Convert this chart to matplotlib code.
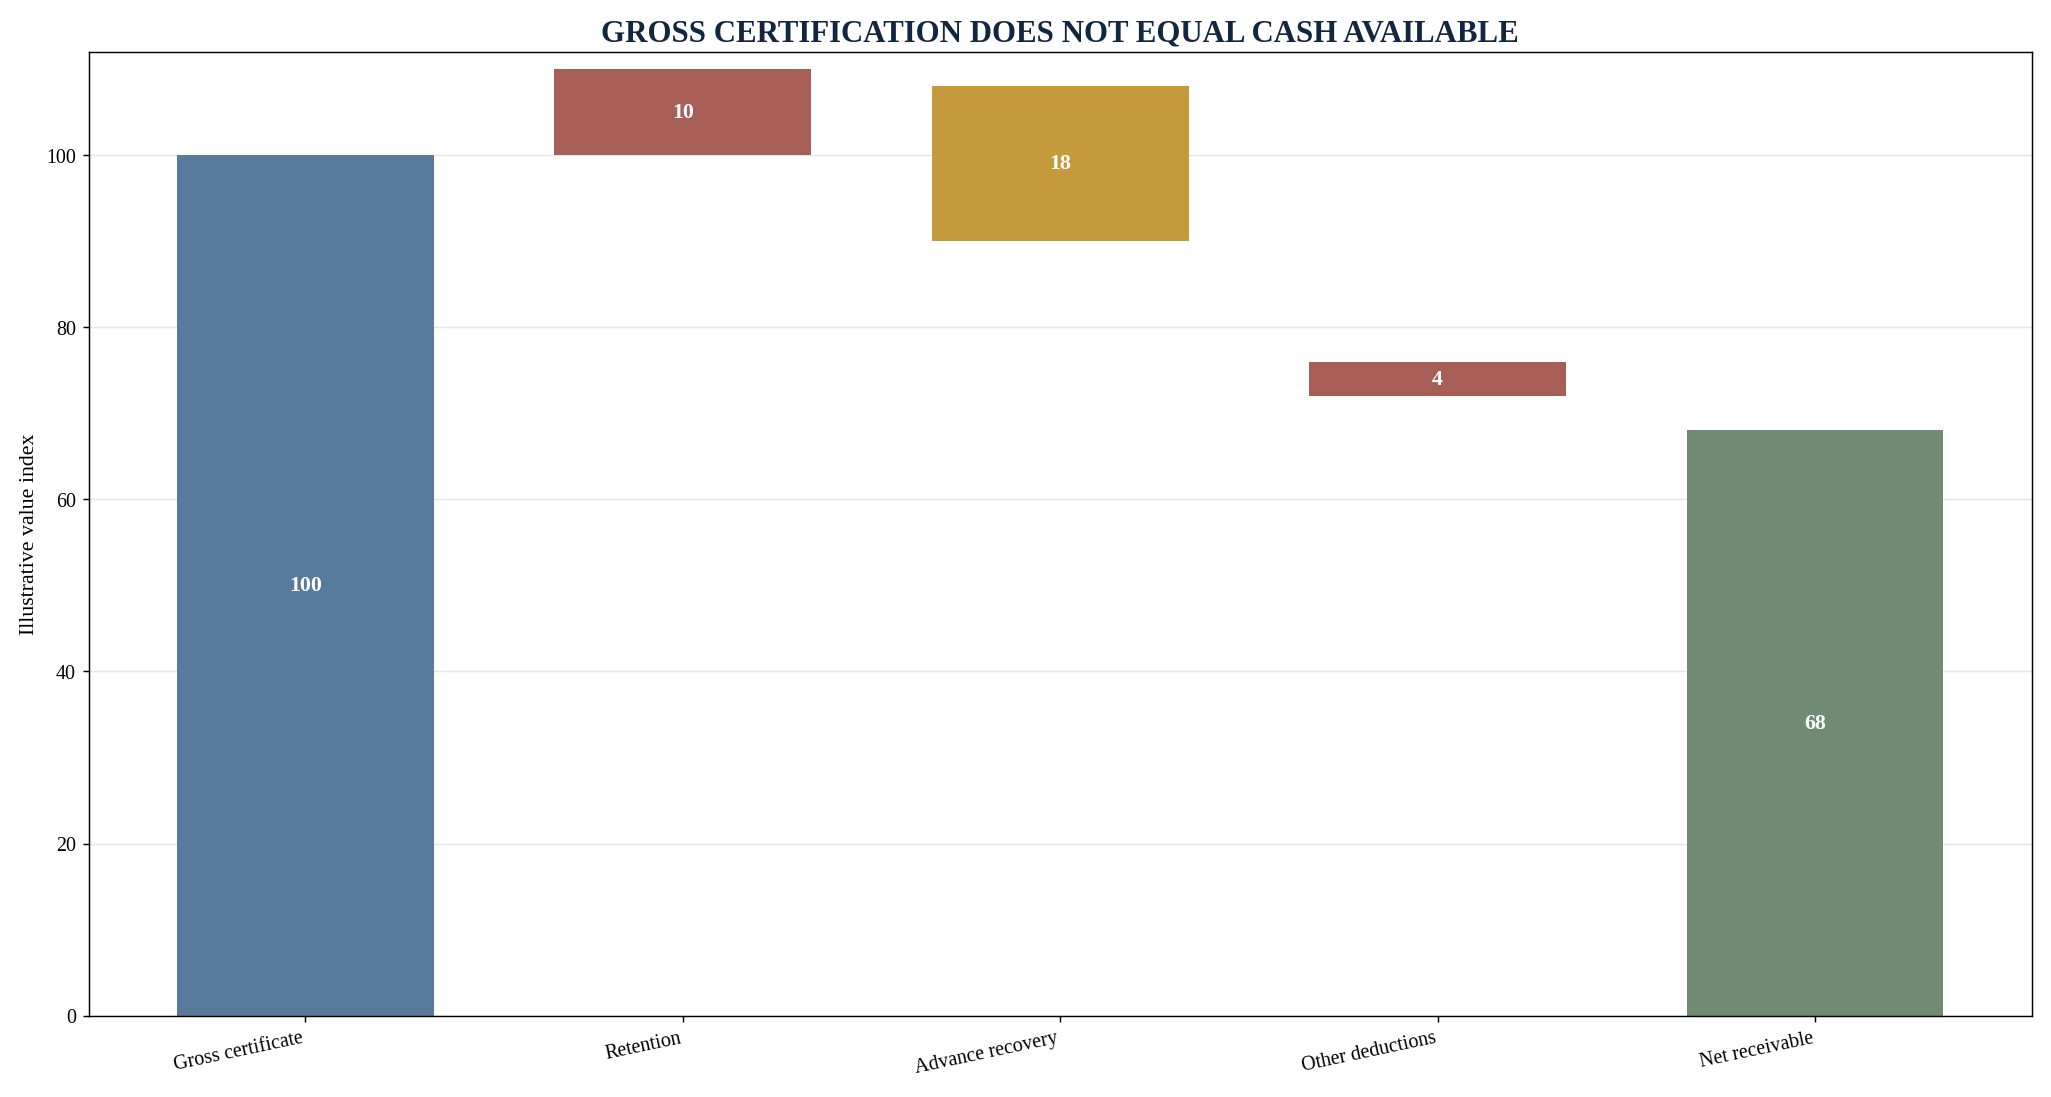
import matplotlib
matplotlib.use("Agg")
from matplotlib import pyplot as plt

CATEGORIES = ["Gross certificate", "Retention", "Advance recovery", "Other deductions", "Net receivable"]
VALUES = [100, 10, 18, 4, 68]
KINDS = ["total", "deduct", "deduct", "deduct", "total"]
COLORS = ["#587b9b", "#a65e57", "#c49a3c", "#a65e57", "#6f8c73"]

plt.rcParams["font.family"] = ["Liberation Serif", "DejaVu Serif"]

fig, ax = plt.subplots(figsize=(15.66, 8.38), dpi=131)

running = 0
bottoms = []
for v, k in zip(VALUES, KINDS):
    if k == "total":
        bottoms.append(0)
        running = v
    else:
        bottoms.append(running)
        running -= v

x = range(len(CATEGORIES))
ax.bar(x, VALUES, bottom=bottoms, color=COLORS, width=0.68, zorder=2)
for i, (v, b) in enumerate(zip(VALUES, bottoms)):
    ax.text(i, b + v / 2, f"{v}", ha="center", va="center", color="white",
            fontweight="bold", fontsize=12)

ax.set_xticks(list(x))
ax.set_xticklabels(CATEGORIES, rotation=12, ha="right", fontsize=11)
ax.set_ylim(0, 112)
ax.tick_params(axis="y", labelsize=11)
ax.set_ylabel("Illustrative value index", fontsize=12)
ax.grid(axis="y", color="#e6e6e6", linewidth=0.8, zorder=0)
ax.set_title("GROSS CERTIFICATION DOES NOT EQUAL CASH AVAILABLE", fontsize=17,
             fontweight="bold", color="#13263f")

plt.tight_layout()
plt.savefig("out.png")
